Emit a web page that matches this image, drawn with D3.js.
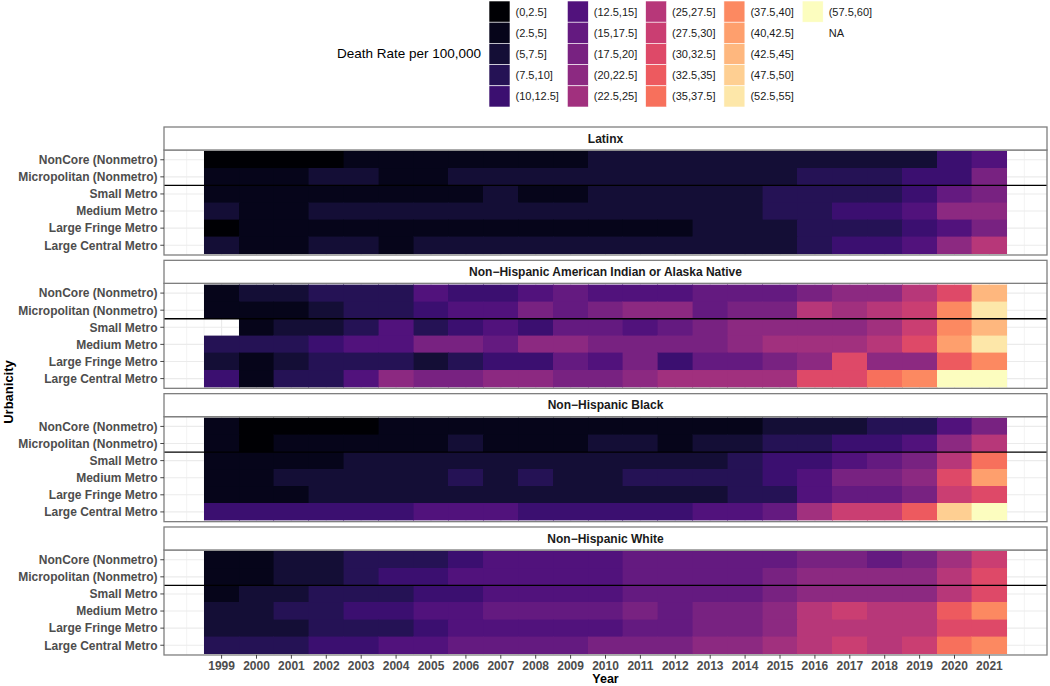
<!DOCTYPE html>
<html><head><meta charset="utf-8">
<script src="https://cdn.jsdelivr.net/npm/d3@7"></script>
<style>body{margin:0;background:#fff;} svg{display:block;font-family:"Liberation Sans",Arial,sans-serif;}</style>
</head><body><svg id="chart" width="1050" height="686"></svg>
<script>
const years = [1999,2000,2001,2002,2003,2004,2005,2006,2007,2008,2009,2010,2011,2012,2013,2014,2015,2016,2017,2018,2019,2020,2021];
const urbanicity = ["NonCore (Nonmetro)","Micropolitan (Nonmetro)","Small Metro","Medium Metro","Large Fringe Metro","Large Central Metro"];
const groups = ["Latinx","Non\u2212Hispanic American Indian or Alaska Native","Non\u2212Hispanic Black","Non\u2212Hispanic White"];
const legendLabels = ["(0,2.5]","(2.5,5]","(5,7.5]","(7.5,10]","(10,12.5]","(12.5,15]","(15,17.5]","(17.5,20]","(20,22.5]","(22.5,25]","(25,27.5]","(27.5,30]","(30,32.5]","(32.5,35]","(35,37.5]","(37.5,40]","(40,42.5]","(42.5,45]","(47.5,50]","(52.5,55]","(57.5,60]"];

// death rate per 100,000, rows follow `urbanicity`, columns follow `years`
const latinx = [
 [1.2,1.2,1.2,1.2,3.7,3.7,3.7,3.7,3.7,3.7,3.7,6.2,6.2,6.2,6.2,6.2,6.2,6.2,6.2,6.2,6.2,11.2,13.7],
 [3.7,3.7,3.7,6.2,6.2,3.7,3.7,6.2,6.2,6.2,6.2,6.2,6.2,6.2,6.2,6.2,6.2,8.7,8.7,8.7,11.2,11.2,18.7],
 [3.7,3.7,3.7,3.7,3.7,3.7,3.7,3.7,6.2,3.7,3.7,6.2,6.2,6.2,6.2,6.2,8.7,8.7,8.7,8.7,11.2,16.2,18.7],
 [6.2,3.7,3.7,6.2,6.2,6.2,6.2,6.2,6.2,6.2,6.2,6.2,6.2,6.2,6.2,6.2,8.7,8.7,11.2,11.2,13.7,21.2,21.2],
 [1.2,3.7,3.7,3.7,3.7,3.7,3.7,3.7,3.7,3.7,3.7,3.7,3.7,3.7,6.2,6.2,6.2,8.7,8.7,8.7,11.2,13.7,18.7],
 [6.2,3.7,3.7,6.2,6.2,3.7,6.2,6.2,6.2,6.2,6.2,6.2,6.2,6.2,6.2,6.2,6.2,8.7,11.2,11.2,13.7,21.2,26.2]
];
const aian = [
 [3.7,6.2,6.2,8.7,8.7,8.7,13.7,11.2,11.2,13.7,16.2,13.7,13.7,13.7,16.2,16.2,16.2,18.7,21.2,21.2,26.2,31.2,43.7],
 [3.7,3.7,3.7,6.2,8.7,8.7,11.2,13.7,13.7,18.7,16.2,18.7,21.2,21.2,16.2,18.7,18.7,26.2,23.7,26.2,28.7,38.7,53.7],
 [null,3.7,6.2,6.2,8.7,13.7,8.7,11.2,13.7,11.2,16.2,16.2,13.7,16.2,18.7,21.2,21.2,21.2,21.2,23.7,28.7,38.7,43.7],
 [8.7,8.7,8.7,11.2,13.7,13.7,18.7,18.7,16.2,21.2,21.2,18.7,18.7,18.7,18.7,21.2,23.7,23.7,23.7,26.2,31.2,41.2,53.7],
 [6.2,3.7,6.2,8.7,8.7,8.7,6.2,8.7,11.2,11.2,16.2,13.7,18.7,11.2,16.2,16.2,18.7,21.2,31.2,21.2,21.2,33.7,38.7],
 [11.2,3.7,8.7,8.7,13.7,21.2,18.7,18.7,21.2,21.2,18.7,18.7,21.2,23.7,23.7,23.7,23.7,31.2,31.2,36.2,38.7,58.7,58.7]
];
const black = [
 [3.7,1.2,1.2,1.2,1.2,3.7,3.7,3.7,3.7,3.7,3.7,3.7,3.7,3.7,3.7,3.7,6.2,6.2,6.2,8.7,8.7,13.7,18.7],
 [3.7,1.2,3.7,3.7,3.7,3.7,3.7,6.2,3.7,3.7,3.7,6.2,6.2,3.7,6.2,6.2,8.7,8.7,11.2,11.2,13.7,21.2,26.2],
 [3.7,3.7,3.7,3.7,6.2,6.2,6.2,6.2,6.2,6.2,6.2,6.2,6.2,6.2,6.2,8.7,11.2,11.2,13.7,16.2,18.7,26.2,36.2],
 [3.7,3.7,6.2,6.2,6.2,6.2,6.2,8.7,6.2,8.7,6.2,6.2,8.7,8.7,8.7,8.7,11.2,13.7,18.7,18.7,21.2,31.2,41.2],
 [3.7,3.7,3.7,6.2,6.2,6.2,6.2,6.2,6.2,6.2,6.2,6.2,6.2,6.2,6.2,8.7,8.7,13.7,16.2,16.2,18.7,28.7,31.2],
 [11.2,11.2,11.2,11.2,11.2,11.2,13.7,13.7,13.7,11.2,11.2,11.2,11.2,11.2,13.7,13.7,16.2,23.7,28.7,28.7,33.7,48.7,58.7]
];
const white = [
 [3.7,3.7,6.2,6.2,8.7,8.7,8.7,11.2,13.7,13.7,13.7,13.7,16.2,16.2,16.2,16.2,16.2,18.7,18.7,16.2,18.7,23.7,28.7],
 [3.7,3.7,6.2,6.2,8.7,11.2,11.2,13.7,13.7,13.7,13.7,13.7,16.2,16.2,16.2,16.2,18.7,21.2,21.2,21.2,21.2,26.2,31.2],
 [3.7,6.2,6.2,8.7,8.7,8.7,11.2,11.2,13.7,13.7,13.7,13.7,16.2,16.2,16.2,16.2,18.7,21.2,21.2,21.2,21.2,26.2,31.2],
 [6.2,6.2,8.7,8.7,11.2,11.2,13.7,13.7,16.2,16.2,16.2,16.2,18.7,16.2,18.7,18.7,21.2,26.2,28.7,26.2,26.2,33.7,38.7],
 [6.2,6.2,6.2,8.7,8.7,8.7,11.2,13.7,13.7,13.7,13.7,13.7,16.2,16.2,18.7,18.7,21.2,26.2,26.2,26.2,26.2,31.2,31.2],
 [8.7,8.7,8.7,11.2,11.2,13.7,13.7,16.2,16.2,16.2,16.2,18.7,18.7,18.7,21.2,21.2,23.7,26.2,28.7,26.2,28.7,36.2,38.7]
];
const groupData = [latinx, aian, black, white];

// ---- helpers
function binLabel(v){
  const hi = Math.ceil(v/2.5)*2.5;
  const lo = hi - 2.5;
  return "(" + lo + "," + hi + "]";
}
const color = d3.scaleOrdinal()
  .domain(legendLabels)
  .range(legendLabels.map((d,i)=>d3.interpolateMagma(i/(legendLabels.length-1))));

const svg = d3.select("#chart");
const panelL = 164, panelR = 1047;
const span = (d3.max(years)+0.5) - (d3.min(years)-0.5);
const x = d3.scaleLinear()
  .domain([d3.min(years)-0.5-span*0.05, d3.max(years)+0.5+span*0.05])
  .range([panelL, panelR]);

const facetTop = 127, stripH = 23, panelH = 105, gap = 5.33;
const gridCol = "#EBEBEB", borderCol = "#7F7F7F";

// minor breaks (ggplot-style)
const ext = [d3.min(years)-1].concat(years, [d3.max(years)+1]);
const minor = [];
ext.forEach((b,i)=>{ minor.push(b); if(i<ext.length-1) minor.push(b+0.5); });

groups.forEach((g, gi) => {
  const sTop = facetTop + gi*(stripH+panelH+gap);
  const pTop = sTop + stripH, pBot = pTop + panelH;
  const y = d3.scaleBand().domain(urbanicity).range([pTop+1.2, pBot-1.2]).padding(0);
  const gg = svg.append("g");

  gg.append("rect").attr("x",panelL).attr("y",pTop).attr("width",panelR-panelL).attr("height",panelH).attr("fill","#fff");
  gg.selectAll(".mn").data(minor.filter(d=>x(d)>panelL && x(d)<panelR)).join("line")
    .attr("x1",d=>x(d)).attr("x2",d=>x(d)).attr("y1",pTop).attr("y2",pBot)
    .attr("stroke",gridCol).attr("stroke-width",0.6);
  gg.selectAll(".mj").data(years).join("line")
    .attr("x1",d=>x(d)).attr("x2",d=>x(d)).attr("y1",pTop).attr("y2",pBot)
    .attr("stroke",gridCol).attr("stroke-width",1.1);
  gg.selectAll(".hy").data(urbanicity).join("line")
    .attr("x1",panelL).attr("x2",panelR).attr("y1",d=>y(d)+y.bandwidth()/2).attr("y2",d=>y(d)+y.bandwidth()/2)
    .attr("stroke",gridCol).attr("stroke-width",1.1);

  const cells = [];
  groupData[gi].forEach((row, ri) => row.forEach((v, k) => {
    if (v !== null && v !== undefined) cells.push({u: urbanicity[ri], yr: years[k], v});
  }));
  gg.selectAll(".tile").data(cells).join("rect")
    .attr("x", d=>x(d.yr-0.5)).attr("width", d=>x(d.yr+0.5)-x(d.yr-0.5))
    .attr("y", d=>y(d.u)).attr("height", y.bandwidth())
    .attr("fill", d=>color(binLabel(d.v)))
    .attr("stroke", d=>color(binLabel(d.v))).attr("stroke-width",0.4)
    .attr("shape-rendering","crispEdges");

  const ySep = y(urbanicity[2]);
  gg.append("line").attr("x1",panelL).attr("x2",panelR).attr("y1",ySep).attr("y2",ySep)
    .attr("stroke","#000").attr("stroke-width",1.3);

  gg.append("rect").attr("x",panelL).attr("y",pTop).attr("width",panelR-panelL).attr("height",panelH)
    .attr("fill","none").attr("stroke",borderCol).attr("stroke-width",1.3);
  gg.append("rect").attr("x",panelL).attr("y",sTop).attr("width",panelR-panelL).attr("height",stripH)
    .attr("fill","#fff").attr("stroke",borderCol).attr("stroke-width",1.3);
  gg.append("text").attr("x",(panelL+panelR)/2).attr("y",sTop+stripH/2).attr("dy","0.36em")
    .attr("text-anchor","middle").attr("font-size",12).attr("font-weight","bold").attr("fill","#1A1A1A").text(g);

  const ya = gg.append("g");
  urbanicity.forEach(u=>{
    const cy = y(u)+y.bandwidth()/2;
    ya.append("line").attr("x1",panelL-3.7).attr("x2",panelL).attr("y1",cy).attr("y2",cy).attr("stroke","#333").attr("stroke-width",0.9);
    ya.append("text").attr("x",panelL-6.5).attr("y",cy).attr("dy","0.36em").attr("text-anchor","end")
      .attr("font-size",12).attr("font-weight","bold").attr("fill","#4D4D4D").text(u);
  });

  if (gi === groups.length-1) {
    const xa = gg.append("g");
    years.forEach(yr=>{
      xa.append("line").attr("x1",x(yr)).attr("x2",x(yr)).attr("y1",pBot).attr("y2",pBot+3.7).attr("stroke","#333").attr("stroke-width",0.9);
      xa.append("text").attr("x",x(yr)).attr("y",pBot+15.5).attr("text-anchor","middle")
        .attr("font-size",12).attr("font-weight","bold").attr("fill","#4D4D4D").text(yr);
    });
    svg.append("text").attr("x",(panelL+panelR)/2).attr("y",pBot+28).attr("text-anchor","middle")
      .attr("font-size",12.5).attr("font-weight","bold").attr("fill","#000").text("Year");
  }
});

svg.append("text").attr("transform","translate(13,392) rotate(-90)").attr("text-anchor","middle")
  .attr("font-size",13).attr("font-weight","bold").attr("fill","#000").text("Urbanicity");

const leg = svg.append("g");
leg.append("text").attr("x",337).attr("y",53).attr("dy","0.36em").attr("font-size",13.5).attr("fill","#000").text("Death Rate per 100,000");
const items = legendLabels.concat(["NA"]);
const keyW = 21, keyH = 21.2, colStep = 78.3, rows = 5;
items.forEach((lab,i)=>{
  const c = Math.floor(i/rows), r = i % rows;
  const kx = 489 + c*colStep, ky = 1 + r*keyH;
  if (lab !== "NA") {
    leg.append("rect").attr("x",kx).attr("y",ky).attr("width",keyW).attr("height",keyH)
      .attr("fill",color(lab)).attr("stroke","#fff").attr("stroke-width",0.6);
  }
  leg.append("text").attr("x",kx+keyW+5.5).attr("y",ky+keyH/2).attr("dy","0.36em")
    .attr("font-size",11).attr("fill","#1A1A1A").text(lab);
});
</script></body></html>
